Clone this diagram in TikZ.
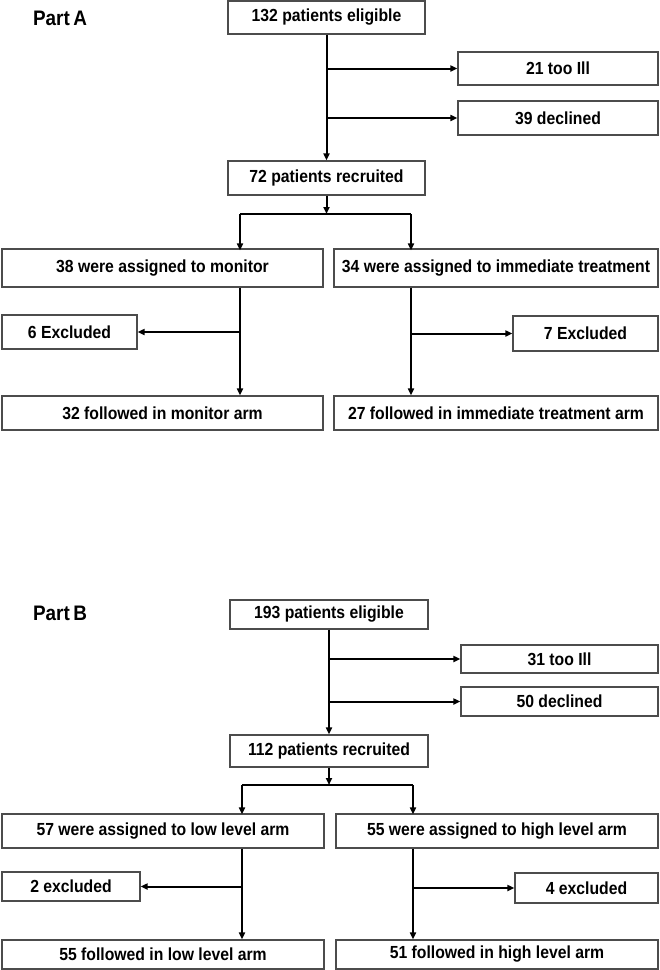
\documentclass[tikz,border=0pt]{standalone}
\usepackage{fontspec}
\setmainfont{Liberation Sans}[FakeStretch=0.9]
\usetikzlibrary{arrows.meta}

\begin{document}
\begin{tikzpicture}[x=1pt, y=-1pt,
        box/.style={draw=black!70, line width=1.2pt, fill=white, inner sep=0pt,
            font=\fontsize{17.5}{19}\selectfont\bfseries},
        part/.style={font=\fontsize{21}{23}\selectfont\bfseries},
        link/.style={line width=2pt, -{Triangle[length=7pt,width=6pt]}},
        plain/.style={line width=2pt}]
        \useasboundingbox (0,0) rectangle (660,970);

        % Part A
        \node[part] (partA) at (60,18) {Part\,A};
        \node[box, minimum width=197pt, minimum height=33pt] (eligA) at (326.5,17.5) {132 patients eligible};
        \node[box, minimum width=200pt, minimum height=33pt] (illA) at (558,68.5) {21 too Ill};
        \node[box, minimum width=200pt, minimum height=34pt] (decA) at (558,118) {39 declined};
        \node[box, minimum width=197pt, minimum height=34pt] (recA) at (326.5,178) {72 patients recruited};
        \node[box, minimum width=321pt, minimum height=38pt] (monA) at (162.5,268) {38 were assigned to monitor};
        \node[box, minimum width=324pt, minimum height=38pt] (immA) at (496,268) {34 were assigned to immediate treatment};
        \node[box, minimum width=135pt, minimum height=34pt] (excA1) at (69.5,332) {6 Excluded};
        \node[box, minimum width=145pt, minimum height=35pt] (excA2) at (585.5,333.5) {7 Excluded};
        \node[box, minimum width=321pt, minimum height=34pt] (folA1) at (162.5,413) {32 followed in monitor arm};
        \node[box, minimum width=324pt, minimum height=34pt] (folA2) at (496,413) {27 followed in immediate treatment arm};

        \coordinate (splitA) at (326.5,214);
        \coordinate (forkAL) at (240,214);
        \coordinate (forkAR) at (411,214);

        \draw[link] (eligA) -- (recA);
        \draw[link] (eligA.south |- illA.west) -- (illA.west);
        \draw[link] (eligA.south |- decA.west) -- (decA.west);
        \draw[link] (recA) -- (splitA);
        \draw[plain] (forkAL) -- (forkAR);
        \draw[link] (forkAL) -- ([yshift=-2pt]forkAL |- monA.north);
        \draw[link] (forkAR) -- ([yshift=-2pt]forkAR |- immA.north);
        \draw[link] (forkAL |- monA.south) -- (forkAL |- folA1.north);
        \draw[link] (forkAR |- immA.south) -- (forkAR |- folA2.north);
        \draw[link] (forkAL |- excA1.east) -- (excA1.east);
        \draw[link] (forkAR |- excA2.west) -- (excA2.west);

        % Part B
        \node[part] (partB) at (60,613) {Part\,B};
        \node[box, minimum width=198pt, minimum height=29pt] (eligB) at (329,614.5) {193 patients eligible};
        \node[box, minimum width=197pt, minimum height=28pt] (illB) at (559.5,659) {31 too Ill};
        \node[box, minimum width=197pt, minimum height=29pt] (decB) at (559.5,701.5) {50 declined};
        \node[box, minimum width=198pt, minimum height=32pt] (recB) at (329,751) {112 patients recruited};
        \node[box, minimum width=322pt, minimum height=34pt] (lowB) at (163,831) {57 were assigned to low level arm};
        \node[box, minimum width=322pt, minimum height=34pt] (highB) at (497,831) {55 were assigned to high level arm};
        \node[box, minimum width=138pt, minimum height=29pt] (excB1) at (71,886.5) {2 excluded};
        \node[box, minimum width=143pt, minimum height=30pt] (excB2) at (586.5,888) {4 excluded};
        \node[box, minimum width=322pt, minimum height=29pt] (folB1) at (163,954.5) {55 followed in low level arm};
        \node[box, minimum width=322pt, minimum height=29pt] (folB2) at (497,954.5) {51 followed in high level arm};

        \coordinate (splitB) at (329,785);
        \coordinate (forkBL) at (242,785);
        \coordinate (forkBR) at (413,785);

        \draw[link] (eligB) -- (recB);
        \draw[link] (eligB.south |- illB.west) -- (illB.west);
        \draw[link] (eligB.south |- decB.west) -- (decB.west);
        \draw[link] (recB) -- (splitB);
        \draw[plain] (forkBL) -- (forkBR);
        \draw[link] (forkBL) -- ([yshift=-1pt]forkBL |- lowB.north);
        \draw[link] (forkBR) -- ([yshift=-1pt]forkBR |- highB.north);
        \draw[link] (forkBL |- lowB.south) -- (forkBL |- folB1.north);
        \draw[link] (forkBR |- highB.south) -- (forkBR |- folB2.north);
        \draw[link] (forkBL |- excB1.east) -- (excB1.east);
        \draw[link] (forkBR |- excB2.west) -- (excB2.west);
\end{tikzpicture}
\end{document}
